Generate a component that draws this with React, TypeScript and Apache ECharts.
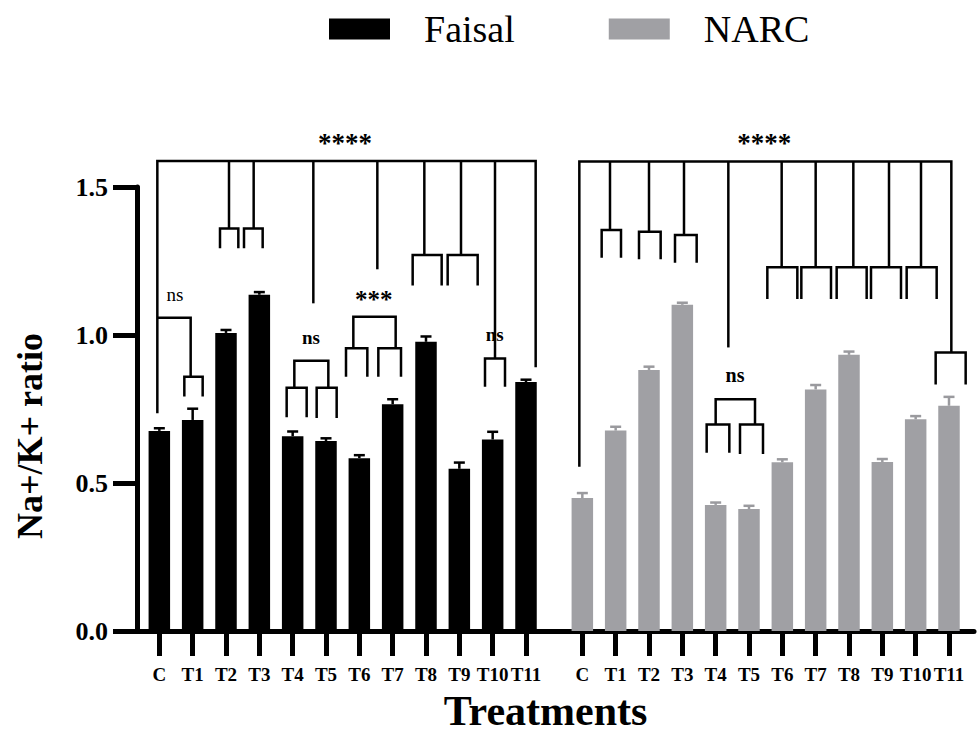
import React, { useEffect, useRef } from 'react';
import * as echarts from 'echarts';

// ---------------- data ----------------
const treatments = ['C', 'T1', 'T2', 'T3', 'T4', 'T5', 'T6', 'T7', 'T8', 'T9', 'T10', 'T11'];
const faisalValues = [0.676, 0.713, 1.007, 1.136, 0.658, 0.642, 0.584, 0.766, 0.977, 0.548, 0.647, 0.841];
const faisalErrors = [0.009, 0.038, 0.010, 0.009, 0.016, 0.009, 0.010, 0.017, 0.018, 0.021, 0.026, 0.008];
const narcValues = [0.449, 0.677, 0.882, 1.102, 0.426, 0.412, 0.570, 0.816, 0.933, 0.571, 0.715, 0.761];
const narcErrors = [0.017, 0.013, 0.011, 0.007, 0.008, 0.011, 0.010, 0.015, 0.011, 0.010, 0.011, 0.030];
const yTicks = [0, 0.5, 1.0, 1.5];

// layout of the two groups on a continuous x scale (category slots)
const NARC_OFFSET = 12.69;
const X_MIN = -0.67;
const X_MAX = 24.44;

const faisalPos = treatments.map((_, i) => i);
const narcPos = treatments.map((_, i) => NARC_OFFSET + i);
const allPos = [...faisalPos, ...narcPos];
const allLabels = [...treatments, ...treatments];

// significance brackets, in data units (x slot, y value)
type Pt = [number, number];
const drop = (x: number, y1: number, y2: number): Pt[] => [[x, y1], [x, y2]];
const cup = (x1: number, x2: number, yTop: number, yLeg: number): Pt[] => [[x1, yLeg], [x1, yTop], [x2, yTop], [x2, yLeg]];

const faisalBrackets: Pt[][] = [
  [[-0.06, 0.736], [-0.06, 1.588], [11.29, 1.588], [11.29, 0.891]],
  drop(2.09, 1.588, 1.36), cup(1.82, 2.37, 1.36, 1.293),
  drop(2.83, 1.588, 1.36), cup(2.54, 3.10, 1.36, 1.293),
  drop(4.62, 1.588, 1.107),
  drop(6.54, 1.588, 1.222),
  drop(7.95, 1.588, 1.27), cup(7.60, 8.47, 1.27, 1.167),
  drop(9.05, 1.588, 1.27), cup(8.65, 9.55, 1.27, 1.167),
  drop(10.07, 1.588, 0.921), cup(9.77, 10.37, 0.921, 0.825),
  [[-0.06, 1.058], [0.94, 1.058], [0.94, 0.859]], cup(0.75, 1.30, 0.859, 0.792),
  cup(4.05, 5.07, 0.913, 0.822), cup(3.82, 4.42, 0.822, 0.722), cup(4.72, 5.32, 0.822, 0.72),
  cup(5.82, 7.09, 1.062, 0.955), cup(5.60, 6.24, 0.955, 0.859), cup(6.57, 7.25, 0.955, 0.859),
];

const narcBrackets: Pt[][] = [
  [[-0.09, 0.555], [-0.09, 1.586], [11.07, 1.586], [11.07, 0.941]], cup(10.60, 11.50, 0.941, 0.833),
  drop(0.83, 1.586, 1.355), cup(0.58, 1.16, 1.355, 1.261),
  drop(2.00, 1.586, 1.349), cup(1.70, 2.35, 1.349, 1.256),
  drop(3.05, 1.586, 1.338), cup(2.78, 3.43, 1.338, 1.244),
  drop(4.38, 1.586, 0.958),
  drop(5.98, 1.586, 1.229), cup(5.55, 6.45, 1.229, 1.122),
  drop(7.00, 1.586, 1.229), cup(6.57, 7.46, 1.229, 1.122),
  drop(8.13, 1.586, 1.229), cup(7.63, 8.53, 1.229, 1.122),
  drop(9.20, 1.586, 1.229), cup(8.66, 9.56, 1.229, 1.122),
  drop(10.16, 1.586, 1.229), cup(9.73, 10.63, 1.229, 1.122),
  cup(4.00, 5.18, 0.783, 0.698), cup(3.73, 4.41, 0.698, 0.602), cup(4.73, 5.42, 0.698, 0.598),
];

const shift = (lines: Pt[][], dx: number): Pt[][] => lines.map((l) => l.map(([x, y]) => [x + dx, y] as Pt));
const bracketLines: Pt[][] = [...faisalBrackets, ...shift(narcBrackets, NARC_OFFSET)];

type Note = { x: number; y: number; text: string; size: number; bold: boolean };
const faisalNotes: Note[] = [
  { x: 5.57, y: 1.65, text: '****', size: 27, bold: true },
  { x: 0.47, y: 1.138, text: 'ns', size: 19, bold: false },
  { x: 4.55, y: 0.993, text: 'ns', size: 19, bold: true },
  { x: 6.43, y: 1.12, text: '***', size: 25, bold: true },
  { x: 10.06, y: 1.003, text: 'ns', size: 19, bold: true },
];
const narcNotes: Note[] = [
  { x: 5.46, y: 1.65, text: '****', size: 27, bold: true },
  { x: 4.58, y: 0.865, text: 'ns', size: 20, bold: true },
];
const notes: Note[] = [...faisalNotes, ...narcNotes.map((n) => ({ ...n, x: n.x + NARC_OFFSET }))];

const SERIF = "'Liberation Serif', 'Times New Roman', serif";
const FAISAL_COLOR = '#000000';
const NARC_COLOR = '#a0a0a4';

const labelAt = (v: number) => {
  const j = allPos.findIndex((p) => Math.abs(p - v) < 0.01);
  return j >= 0 ? allLabels[j] : '';
};

const errorSeries = (name: string, pos: number[], vals: number[], errs: number[], color: string) => ({
  type: 'custom',
  name,
  coordinateSystem: 'cartesian2d',
  clip: false,
  silent: true,
  z: 3,
  data: vals.map((v, i) => [pos[i], v, errs[i]]),
  renderItem: (params: any, api: any) => {
    const x = api.value(0);
    const v = api.value(1);
    const e = api.value(2);
    const base = api.coord([x, v]);
    const top = api.coord([x, v + e]);
    const style = { stroke: color, lineWidth: 2.5 };
    return {
      type: 'group',
      children: [
        { type: 'line', shape: { x1: base[0], y1: base[1], x2: top[0], y2: top[1] }, style },
        { type: 'line', shape: { x1: top[0] - 5.5, y1: top[1], x2: top[0] + 5.5, y2: top[1] }, style },
      ],
    };
  },
});

export default function App() {
  const ref = useRef<HTMLDivElement>(null);

  useEffect(() => {
    document.body.style.margin = '0';
    if (!ref.current) return;
    const chart = echarts.init(ref.current, undefined, { renderer: 'svg' });
    chart.setOption({
      animation: false,
      backgroundColor: '#ffffff',
      textStyle: { fontFamily: SERIF },
      legend: {
        data: ['Faisal', 'NARC'],
        left: 324,
        top: 3,
        icon: 'rect',
        itemWidth: 61,
        itemHeight: 21,
        itemGap: 94,
        selectedMode: false,
        textStyle: { fontSize: 38, fontFamily: SERIF, color: '#000', padding: [0, 0, 0, 29], lineHeight: 42 },
      },
      grid: { left: 137, right: 3, top: 187, bottom: 115, containLabel: false, outerBoundsMode: 'none' },
      xAxis: {
        type: 'value',
        min: X_MIN,
        max: X_MAX,
        name: 'Treatments',
        nameLocation: 'middle',
        nameGap: 59,
        nameMoveOverlap: false,
        nameTextStyle: { fontSize: 42, fontWeight: 'bold', fontFamily: SERIF, color: '#000', padding: [0, 20, 0, 0] },
        axisLine: { show: true, onZero: false, lineStyle: { color: '#000', width: 5 } },
        axisTick: { show: true, length: 25, customValues: allPos, lineStyle: { color: '#000', width: 5 } },
        axisLabel: {
          customValues: allPos,
          formatter: (v: number) => labelAt(v),
          fontSize: 19,
          fontWeight: 'bold',
          fontFamily: SERIF,
          color: '#000',
          margin: 34,
        },
        splitLine: { show: false },
      },
      yAxis: {
        type: 'value',
        min: 0,
        max: 1.5,
        interval: 0.5,
        name: 'Na+/K+ ratio',
        nameLocation: 'middle',
        nameRotate: 90,
        nameGap: 89,
        nameMoveOverlap: false,
        nameTextStyle: { fontSize: 36, fontWeight: 'bold', fontFamily: SERIF, color: '#000', padding: [0, 54, 0, 0] },
        axisLine: { show: true, onZero: false, lineStyle: { color: '#000', width: 5 } },
        axisTick: { show: true, length: 24, customValues: yTicks, lineStyle: { color: '#000', width: 5 } },
        axisLabel: {
          customValues: yTicks,
          formatter: (v: number) => v.toFixed(1),
          fontSize: 26,
          fontWeight: 'bold',
          fontFamily: SERIF,
          color: '#000',
          margin: 29,
        },
        splitLine: { show: false },
      },
      series: [
        {
          name: 'Faisal',
          type: 'bar',
          data: faisalValues.map((v, i) => [faisalPos[i], v]),
          barWidth: 21.5,
          barGap: '-100%',
          itemStyle: { color: FAISAL_COLOR },
        },
        {
          name: 'NARC',
          type: 'bar',
          data: narcValues.map((v, i) => [narcPos[i], v]),
          barWidth: 21.5,
          barGap: '-100%',
          itemStyle: { color: NARC_COLOR },
        },
        errorSeries('Faisal error', faisalPos, faisalValues, faisalErrors, FAISAL_COLOR),
        errorSeries('NARC error', narcPos, narcValues, narcErrors, '#9a9a9e'),
        {
          type: 'custom',
          name: 'brackets',
          coordinateSystem: 'cartesian2d',
          clip: false,
          silent: true,
          z: 4,
          data: bracketLines.map((l) => [l[0][0], l[0][1]]),
          renderItem: (params: any, api: any) => {
            const pts = bracketLines[params.dataIndex].map((p) => api.coord(p));
            return {
              type: 'polyline',
              shape: { points: pts },
              style: { stroke: '#000', lineWidth: 2.5, fill: 'none', lineJoin: 'miter' },
            };
          },
        },
        {
          type: 'custom',
          name: 'notes',
          coordinateSystem: 'cartesian2d',
          clip: false,
          silent: true,
          z: 5,
          data: notes.map((n) => [n.x, n.y]),
          renderItem: (params: any, api: any) => {
            const n = notes[params.dataIndex];
            const p = api.coord([n.x, n.y]);
            return {
              type: 'text',
              x: p[0],
              y: p[1],
              style: {
                text: n.text,
                fontSize: n.size,
                fontWeight: n.bold ? 'bold' : 'normal',
                fontFamily: SERIF,
                fill: '#000',
                align: 'center',
                verticalAlign: 'middle',
              },
            };
          },
        },
      ],
    });
    return () => chart.dispose();
  }, []);

  return <div ref={ref} style={{ width: 977, height: 746 }} />;
}
